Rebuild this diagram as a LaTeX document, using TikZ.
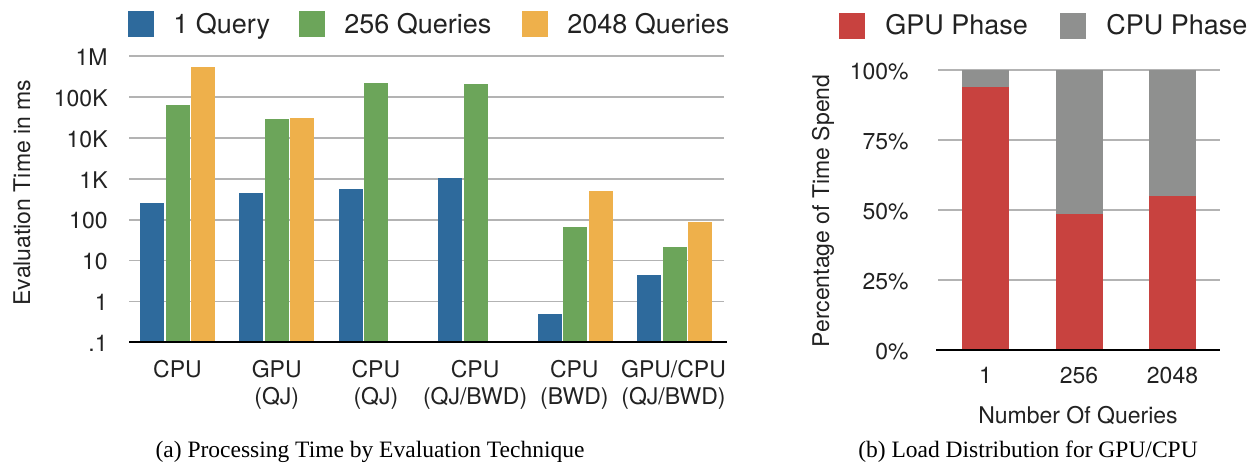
\documentclass[tikz,border=0pt]{standalone}
\usepackage{fontspec}
\setmainfont{Liberation Serif}
\setsansfont{TeX Gyre Heros}
\definecolor{qblue}{HTML}{2E6A9C}
\definecolor{qgreen}{HTML}{6CA55A}
\definecolor{qorange}{HTML}{EEB04B}
\definecolor{gpured}{HTML}{C8423F}
\definecolor{cpugray}{HTML}{8F908F}
\definecolor{gridgray}{HTML}{B3B3B3}
\definecolor{labeltext}{HTML}{222222}
\tikzset{
  grid line/.style={gridgray, line width=0.9pt},
  axis line/.style={black, line width=0.9pt},
  tick label/.style={inner sep=0pt, text=labeltext, font=\sffamily\fontsize{11.5}{13.5}\selectfont},
  cat label/.style={tick label, anchor=north, align=center},
  axis title/.style={tick label},
  legend text/.style={inner sep=0pt, anchor=base west, text=labeltext, font=\sffamily\fontsize{13.5}{15}\selectfont},
  caption/.style={inner sep=0pt, anchor=base, font=\rmfamily\fontsize{11.75}{14}\selectfont}
}
\begin{document}
\begin{tikzpicture}[x=0.5pt,y=-0.5pt]
\useasboundingbox (0,0) rectangle (1259,465);
% (a) legend
\foreach \c/\x/\t [count=\i] in {qblue/128/1 Query, qgreen/299/256 Queries, qorange/522/2048 Queries} {
  \fill[\c] (\x,11) rectangle ++(26,26);
  \node[legend text] (lega\i) at (\x+45,34) {\t};
}
\begin{scope}[shift={(0,342.3)}, y=20.45pt]   % one unit = one decade above .1
\foreach \d/\t in {1/1, 2/10, 3/100, 4/1K, 5/10K, 6/100K, 7/1M} {
  \draw[grid line] (129,\d) -- (724,\d);
  \node[tick label, anchor=east] (tick\d) at (108,\d-0.03) {\t};
}
\node[tick label, anchor=east] (tick0) at (108,-0.03) {.1};
\foreach \b/\g/\o [count=\i from 0] in {3.41/5.80/6.73, 3.65/5.46/5.48, 3.75/6.34/0, 4.02/6.32/0, 0.69/2.82/3.70, 1.65/2.33/2.94} {
  \fill[qblue] (140+99.4*\i,0) rectangle ++(24,\b);
  \fill[qgreen] (165.5+99.4*\i,0) rectangle ++(24,\g);
  \fill[qorange] (191+99.4*\i,0) rectangle ++(24,\o);
}
\draw[axis line] (129,0) -- (727,0);
\end{scope}
\foreach \t [count=\i from 0] in {{CPU}, {GPU\\(QJ)}, {CPU\\(QJ)}, {CPU\\(QJ/BWD)}, {CPU\\(BWD)}, {GPU/CPU\\(QJ/BWD)}} {
  \node[cat label] (cat\i) at (177.5+99.2*\i,360) {\t};
}
\node[axis title, rotate=90] (ylaba) at (22,192.5) {Evaluation Time in ms};
\node[caption] (capa) at (370,457) {(a) Processing Time by Evaluation Technique};
% (b) legend
\fill[gpured] (839,13) rectangle ++(26,26);
\node[legend text] (legb1) at (885,35) {GPU Phase};
\fill[cpugray] (1060,13) rectangle ++(26,26);
\node[legend text] (legb2) at (1106,35) {CPU Phase};
\begin{scope}[shift={(0,350)}, y=1.3985pt]   % one unit = one percent
\foreach \p in {25,50,75,100} {
  \draw[grid line] (938,\p) -- (1220,\p);
  \node[tick label, anchor=east] (pct\p) at (909,\p-0.5) {\p\%};
}
\node[tick label, anchor=east] (pct0) at (909,-0.5) {0\%};
\foreach \r [count=\i from 0] in {94.0, 48.6, 55.1} {
  \fill[gpured] (962+93.5*\i,0) rectangle ++(47,\r);
  \fill[cpugray] (962+93.5*\i,\r) rectangle (1009+93.5*\i,100);
}
\draw[axis line] (936,0) -- (1220,0);
\end{scope}
\foreach \n [count=\i from 0] in {1, 256, 2048} {
  \node[tick label, anchor=base] (num\i) at (985.5+93.5*\i,383) {\n};
}
\node[axis title, anchor=base] (xlabb) at (1078,423) {Number Of Queries};
\node[axis title, rotate=90] (ylabb) at (823,211) {Percentage of Time Spend};
\node[caption] (capb) at (1028,457) {(b) Load Distribution for GPU/CPU};
\end{tikzpicture}
\end{document}
